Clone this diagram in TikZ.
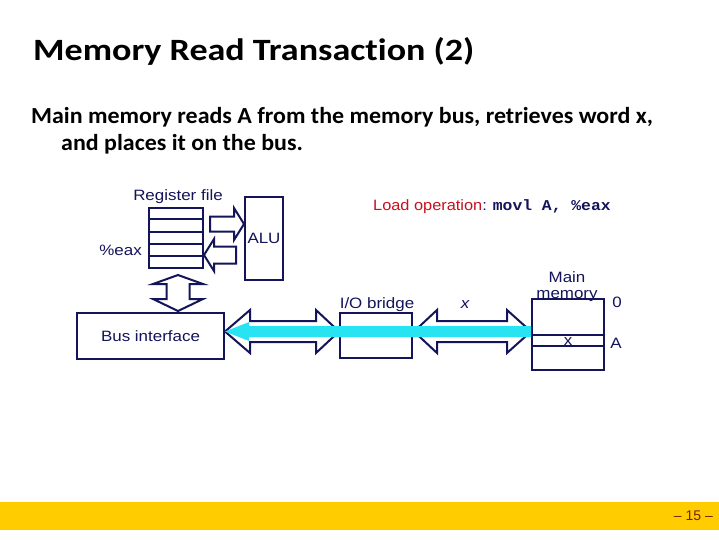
\documentclass[tikz,border=0pt]{standalone}
\usepackage{graphicx}
\usepackage{fontspec}
\setmainfont{Carlito}[Ligatures={TeX,NoCommon}]
\newfontfamily\arialf{Liberation Sans}
\newfontfamily\courf{Liberation Mono}
\usetikzlibrary{calc}
\definecolor{navy}{RGB}{20,20,90}
\definecolor{loadred}{RGB}{200,16,30}
\definecolor{buscyan}{RGB}{40,228,242}
\definecolor{footy}{RGB}{255,204,0}
\definecolor{foottext}{RGB}{120,30,0}
\newcommand{\sx}[1]{\scalebox{1.13}[1]{#1}}
\begin{document}
\begin{tikzpicture}[x=1pt,y=-1pt,
  lbl/.style={font=\arialf\fontsize{15}{18}\selectfont, text=navy, inner sep=0pt},
  box/.style={draw=navy, line width=2pt, inner sep=0pt},
  rowline/.style={draw=navy, line width=2pt},
  dbl/.style={draw=navy, line width=2pt, fill=white, line join=miter}]
\useasboundingbox (0,0) rectangle (719,539);
\fill[white] (0,0) rectangle (719,539);

% title and body text
\node[anchor=base west, inner sep=0pt, font=\bfseries\fontsize{31}{36}\selectfont] (title) at (33,60) {\scalebox{1.163}[1]{Memory Read Transaction (2)}};
\node[anchor=base west, inner sep=0pt, font=\bfseries\fontsize{23}{27}\selectfont] (body1) at (31,123) {\scalebox{1.042}[1]{Main memory reads A from the memory bus, retrieves word x,}};
\node[anchor=base west, inner sep=0pt, font=\bfseries\fontsize{23}{27}\selectfont] (body2) at (61,150) {\scalebox{1.042}[1]{and places it on the bus.}};

% boxes
\node[box, minimum width=54, minimum height=60] (reg) at (176,238) {};
\foreach \d in {12,25,37,49}
  \draw[rowline] ($(reg.north west)+(0,\d)$) -- ($(reg.north east)+(0,\d)$);
\node[box, minimum width=38, minimum height=83] (alu) at (264,238.5) {};
\node[box, minimum width=147, minimum height=46] (busif) at (150.5,336) {};
\node[box, minimum width=72, minimum height=45] (bridge) at (376,335.5) {};
\node[box, minimum width=72, minimum height=71] (mem) at (568,334.5) {};
\foreach \d in {37,48}
  \draw[rowline] ($(mem.north west)+(0,\d)$) -- ($(mem.north east)+(0,\d)$);

% reg -> alu arrow
\draw[dbl] let \p1=(reg.east), \p2=(alu.west) in
  (\x1+6pt,-216.5pt) -- (\x2-10pt,-216.5pt) -- (\x2-10pt,-208pt) -- (\x2,-224pt)
  -- (\x2-10pt,-240pt) -- (\x2-10pt,-231.5pt) -- (\x1+6pt,-231.5pt) -- cycle;
% alu -> reg arrow
\draw[dbl] let \p1=(reg.east), \p2=(alu.west) in
  (\x2-8pt,-246.5pt) -- (\x1+10pt,-246.5pt) -- (\x1+10pt,-239pt) -- (\x1,-255pt)
  -- (\x1+10pt,-271pt) -- (\x1+10pt,-263.5pt) -- (\x2-8pt,-263.5pt) -- cycle;
% reg <-> bus interface (vertical double arrow)
\draw[dbl] let \p1=(reg.south), \p2=(busif.north) in
  (178pt,\y1-6pt) -- (203pt,\y1-15pt) -- (189.5pt,\y1-15pt) -- (189.5pt,\y2+13pt)
  -- (203pt,\y2+13pt) -- (178pt,\y2+1pt) -- (153pt,\y2+13pt) -- (166.5pt,\y2+13pt)
  -- (166.5pt,\y1-15pt) -- (153pt,\y1-15pt) -- cycle;
% system bus
\draw[dbl] let \p1=(busif.east), \p2=(bridge.west) in
  (\x1,-331.5pt) -- (\x1+25pt,-310pt) -- (\x1+25pt,-321pt) -- (\x2-23pt,-321pt)
  -- (\x2-23pt,-310pt) -- (\x2,-331.5pt) -- (\x2-23pt,-353pt) -- (\x2-23pt,-342pt)
  -- (\x1+25pt,-342pt) -- (\x1+25pt,-353pt) -- cycle;
% memory bus
\draw[dbl] let \p1=(bridge.east), \p2=(mem.west) in
  (\x1+1pt,-331.5pt) -- (\x1+24pt,-310pt) -- (\x1+24pt,-321pt) -- (\x2-24pt,-321pt)
  -- (\x2-24pt,-310pt) -- (\x2,-331.5pt) -- (\x2-24pt,-353pt) -- (\x2-24pt,-342pt)
  -- (\x1+24pt,-342pt) -- (\x1+24pt,-353pt) -- cycle;
% cyan data path
\fill[buscyan] let \p1=(busif.east), \p2=(mem.west) in
  (\x1,-331.5pt) -- (\x1+24pt,-322pt) -- (\x1+24pt,-326pt) -- (\x2,-326pt)
  -- (\x2,-337pt) -- (\x1+24pt,-337pt) -- (\x1+24pt,-341pt) -- cycle;

% labels
\node[lbl] (reglbl) at (178,197) {\sx{Register file}};
\node[lbl, anchor=east] (eaxlbl) at (142,250) {\sx{\%eax}};
\node[lbl] (alulbl) at (alu) {\sx{ALU}};
\node[lbl] (buslbl) at (busif) {\sx{Bus interface}};
\node[lbl] (brlbl) at (377,305) {\sx{I/O bridge}};
\node[lbl] (xbus) at (465,305) {\sx{\itshape x}};
\node[lbl] (mainlbl) at (567,277) {\sx{Main}};
\node[lbl] (memlbl) at (567,296) {\sx{memory}};
\node[lbl] (xcell) at (568,342) {\sx{x}};
\node[lbl] (zero) at (617,302) {\sx{0}};
\node[lbl] (alab) at (616,343) {\sx{A}};
\node[anchor=west, inner sep=0pt] (load) at (373,207)
  {\scalebox{1.09}[1]{\arialf\fontsize{15}{18}\selectfont\color{loadred}Load operation\color{navy}: \courf\bfseries movl A, \%eax}};

% footer
\fill[footy] (0,502) rectangle (719,530);
\node[anchor=east, inner sep=0pt, font=\arialf\fontsize{14}{16}\selectfont, text=foottext] (page) at (713,516) {\textendash\ 15 \textendash};
\end{tikzpicture}
\end{document}
